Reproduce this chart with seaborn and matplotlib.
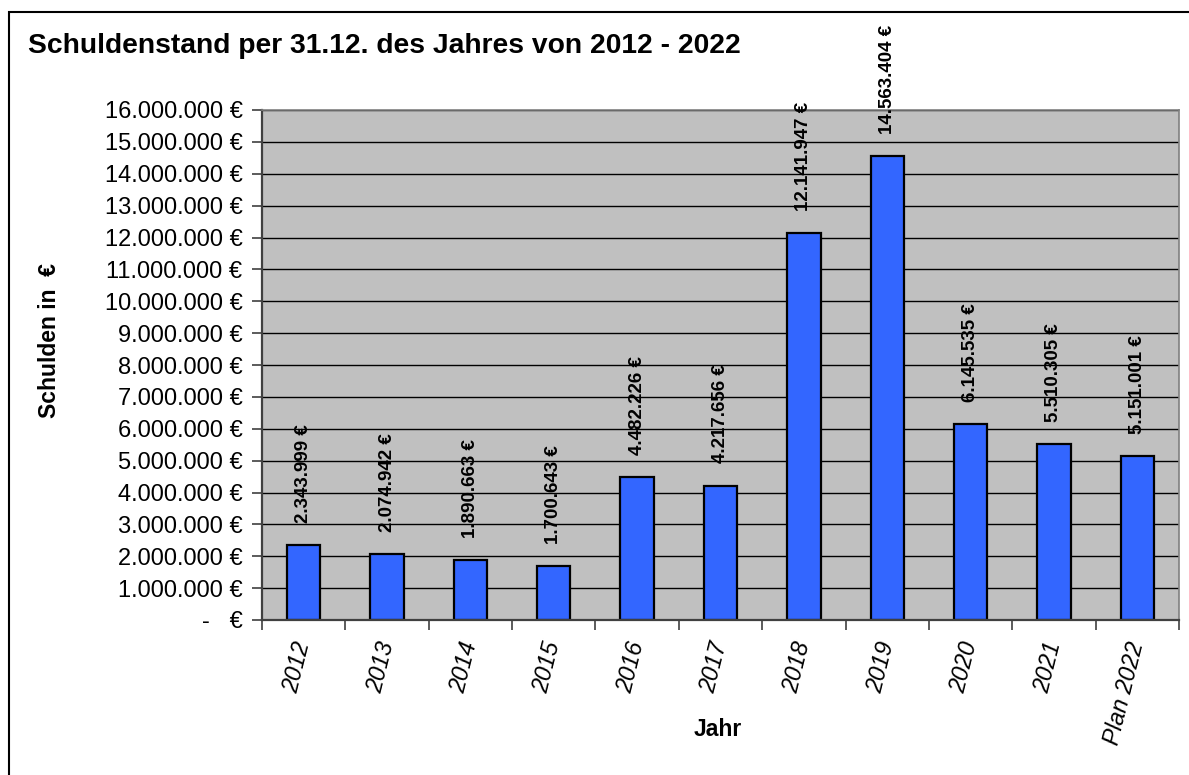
import numpy as np
import matplotlib
matplotlib.use("Agg")
import matplotlib.pyplot as plt
import seaborn as sns
from matplotlib.patches import Rectangle
from matplotlib.ticker import FuncFormatter, FixedLocator

# data
jahre = ["2012", "2013", "2014", "2015", "2016", "2017", "2018", "2019",
         "2020", "2021", "Plan 2022"]
schulden = [2343999, 2074942, 1890663, 1700643, 4482226, 4217656,
            12141947, 14563404, 6145535, 5510305, 5151001]


def euro(v):
    if v == 0:
        return "-   €"
    return f"{v:,.0f} €".replace(",", ".")


sns.set_style("white")
plt.rcParams["font.family"] = ["Liberation Sans", "DejaVu Sans"]
plt.rcParams["text.color"] = "black"
plt.rcParams["xtick.color"] = "black"
plt.rcParams["ytick.color"] = "black"

fig = plt.figure(figsize=(11.89, 7.75), dpi=100)
ax = fig.add_axes([262 / 1189, 155 / 775, 917 / 1189, 510 / 775])
ax.set_facecolor("#C0C0C0")

sns.barplot(x=jahre, y=schulden, color="#3366FF", saturation=1, width=0.4,
            edgecolor="black", linewidth=1.6, ax=ax)

ax.set_ylim(0, 16000000)
ax.set_xlim(-0.5, len(jahre) - 0.5)
ax.set_yticks(np.arange(0, 16000001, 1000000))
ax.yaxis.set_major_formatter(FuncFormatter(lambda v, p: euro(v)))
ax.yaxis.grid(True, color="black", linewidth=1)
ax.set_axisbelow(True)

ax.tick_params(axis="y", which="major", length=7, width=1.2, color="#404040",
               direction="out", labelsize=17, labelcolor="black", pad=7,
               left=True)
ax.tick_params(axis="x", which="major", length=0, labelsize=16.8,
               labelcolor="black", pad=16)
ax.xaxis.set_minor_locator(FixedLocator(np.arange(-0.5, len(jahre), 1)))
ax.tick_params(axis="x", which="minor", length=7, width=1.2, color="#404040",
               direction="out", bottom=True)
for lab in ax.get_xticklabels():
    lab.set_rotation(76)
    lab.set_rotation_mode("anchor")
    lab.set_ha("right")
    lab.set_va("center")
    lab.set_style("italic")

for side in ["top", "right"]:
    ax.spines[side].set_color("#808080")
    ax.spines[side].set_linewidth(1.2)
for side in ["left", "bottom"]:
    ax.spines[side].set_color("#404040")
    ax.spines[side].set_linewidth(1.6)

ax.bar_label(ax.containers[0], labels=[euro(v) for v in schulden],
             rotation=90, padding=16, fontsize=13.5, fontweight="bold",
             color="black")

ax.set_xlabel("")
ax.set_ylabel("")
fig.text(718 / 1189, 1 - 730 / 775, "Jahr", fontsize=16.5, fontweight="bold",
         ha="center", va="center")
fig.text(50 / 1189, 1 - 340 / 775, "Schulden in  €", fontsize=16.5,
         fontweight="bold", rotation=90, ha="center", va="center")
fig.text(28 / 1189, 1 - 53 / 775,
         "Schuldenstand per 31.12. des Jahres von 2012 - 2022",
         fontsize=20.3, fontweight="bold", ha="left", va="baseline")

# outer chart border
fig.patches.append(Rectangle((9 / 1189, -0.05), 1.05, 1 - 12 / 775 + 0.05,
                             transform=fig.transFigure, fill=False,
                             edgecolor="black", linewidth=1.5))

fig.savefig("out.png", dpi=100)
